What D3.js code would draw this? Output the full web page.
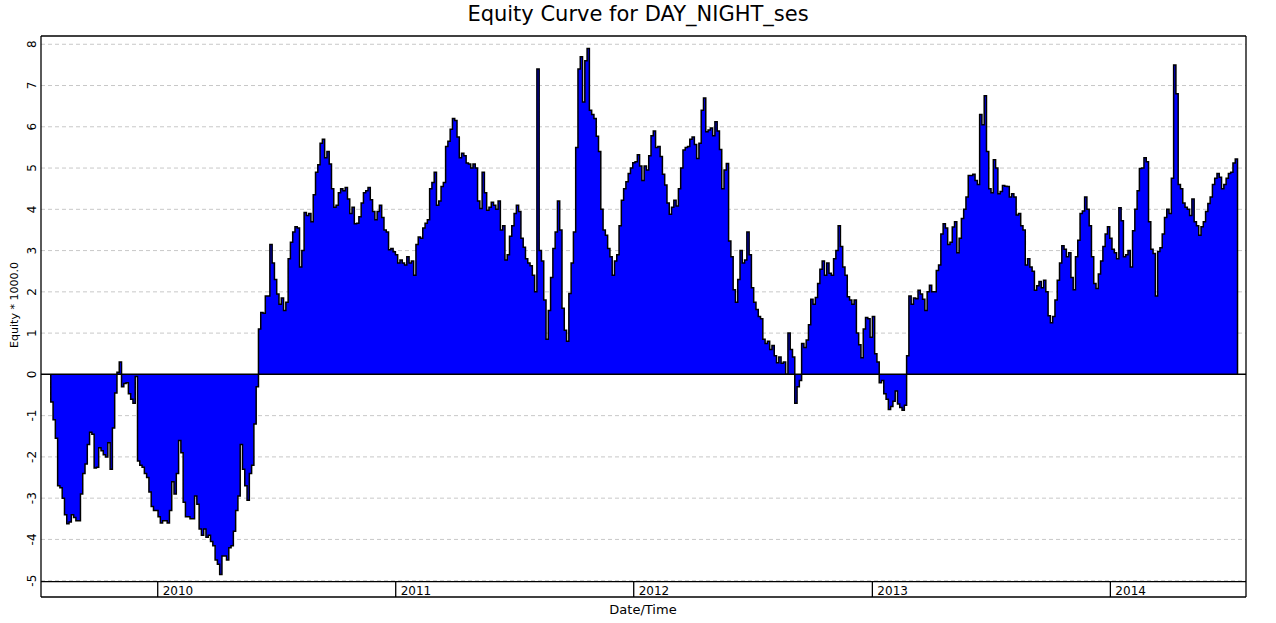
<!DOCTYPE html>
<html><head><meta charset="utf-8">
<script src="https://cdn.jsdelivr.net/npm/d3@7"></script>
<style>body{margin:0;background:#fff} svg{display:block} text{font-family:"DejaVu Sans",Verdana,sans-serif;fill:#000}</style>
</head><body><svg id="c" width="1276" height="623"></svg>
<script>
const title = "Equity Curve for DAY_NIGHT_ses";
const yLabel = "Equity * 1000.0";
const xLabel = "Date/Time";
const startDate = "2009-07-21";
const stepHours = 84; // half-week samples
const equity = [
-0.67,-1.1,-1.55,-2.7,-2.75,-3.0,-3.4,-3.62,-3.58,-3.4,
-3.47,-3.55,-3.55,-2.9,-2.4,-2.17,-1.7,-1.4,-1.45,-2.27,
-2.25,-1.78,-1.85,-1.95,-2.0,-1.66,-2.3,-1.3,-0.45,0.05,
0.3,-0.3,-0.22,-0.2,-0.47,-0.6,-0.7,-0.05,-2.1,-2.2,
-2.25,-2.4,-2.5,-2.85,-3.2,-3.3,-3.3,-3.45,-3.6,-3.55,
-3.55,-3.6,-3.3,-2.6,-2.9,-2.4,-1.6,-1.9,-3.1,-3.45,
-3.45,-3.5,-3.5,-2.95,-3.15,-3.75,-3.9,-3.75,-3.95,-3.9,
-4.05,-4.15,-4.5,-4.6,-4.85,-4.4,-4.4,-4.5,-4.2,-4.15,
-3.8,-3.3,-2.95,-1.7,-2.3,-2.7,-3.05,-2.4,-2.2,-1.2,
-0.3,
1.1,1.5,1.48,1.9,1.9,3.15,2.7,2.3,1.95,1.7,
1.85,1.55,1.75,2.8,3.2,3.45,3.58,3.55,2.6,3.0,
3.92,3.85,3.9,3.7,4.35,4.9,5.08,5.6,5.7,5.25,
5.4,5.1,4.5,4.05,4.1,4.4,4.5,4.45,4.53,4.25,
3.9,4.05,3.65,3.66,3.82,4.15,4.4,4.45,4.53,4.23,
3.95,3.75,3.95,4.1,3.8,3.5,3.45,3.02,3.05,2.97,
2.9,2.7,2.77,2.7,2.65,2.85,2.7,2.75,2.4,3.15,
3.33,3.3,3.55,3.66,3.75,4.5,4.65,4.9,4.1,4.2,
4.55,4.65,5.52,5.65,5.94,6.2,6.15,5.75,5.25,5.36,
5.3,5.12,5.1,5.0,5.1,5.0,4.2,4.02,4.9,4.4,
3.98,4.05,4.17,4.1,4.0,4.2,3.5,3.6,2.77,2.9,
3.35,3.6,3.9,4.1,3.95,3.3,3.08,2.8,2.7,2.63,
2.4,2.0,7.4,3.0,2.75,1.8,0.85,1.55,
2.35,3.05,3.45,4.2,3.5,1.6,1.07,0.8,1.96,2.7,
3.45,5.5,7.4,7.7,6.6,7.6,7.9,6.4,6.3,6.2,
5.77,5.4,4.0,3.5,3.37,3.05,2.85,2.4,2.75,2.9,
3.6,4.22,4.5,4.67,4.87,5.0,5.13,5.15,5.32,5.05,
4.7,5.05,4.95,5.3,5.78,5.9,5.5,5.52,5.28,4.85,
4.59,4.15,3.88,4.05,4.22,4.08,4.5,5.0,5.44,5.5,
5.52,5.7,5.75,5.57,5.23,5.6,6.4,6.7,5.88,5.92,
5.97,5.78,6.12,5.9,5.45,4.5,4.95,5.11,3.23,2.85,
2.05,1.75,2.3,3.0,2.7,2.77,3.45,2.9,2.1,1.75,
1.57,1.4,1.35,0.85,0.75,0.8,0.6,
0.7,0.45,0.28,0.42,0.27,0.3,0.0,1.0,0.6,0.42,
-0.7,-0.3,-0.15,0.75,0.65,0.83,1.2,1.82,1.7,1.86,
2.2,2.55,2.75,2.4,2.7,2.45,2.4,2.8,3.0,3.6,
3.1,2.6,2.4,1.88,1.8,1.7,1.8,1.0,0.72,0.4,
1.1,1.38,1.35,0.9,1.4,0.5,0.3,-0.2,-0.15,-0.47,
-0.6,-0.85,-0.78,-0.65,-0.4,-0.72,-0.8,-0.87,-0.75,0.45,
1.9,1.7,1.85,1.83,2.04,1.95,1.82,1.55,2.0,2.16,
2.0,2.0,2.52,2.65,3.4,3.65,3.55,3.15,3.2,3.57,
3.7,2.95,3.3,3.78,4.0,
4.3,4.82,4.82,4.85,4.7,4.6,6.3,6.05,6.75,5.4,
4.5,4.4,5.2,5.0,4.38,4.43,4.58,4.56,4.55,4.3,
4.38,4.3,3.86,3.9,3.6,3.5,2.65,2.8,2.6,2.5,
2.04,2.15,2.25,2.1,2.28,2.0,1.42,1.25,1.4,1.8,
2.28,2.7,3.12,3.03,2.85,2.95,2.35,2.05,2.85,3.25,
3.9,3.96,4.3,4.0,3.6,2.85,2.2,2.08,2.43,2.75,
3.1,3.4,3.58,3.3,3.03,2.95,2.8,4.04,3.72,2.85,
2.9,3.0,2.6,3.48,4.0,4.45,4.99,5.0,5.25,5.15,
3.7,3.03,2.93,1.9,2.98,3.07,3.4,3.8,4.0,3.9,
4.75,7.5,6.8,4.6,4.5,4.15,4.05,4.0,3.85,4.25,
3.7,3.6,3.37,3.58,3.7,3.95,4.14,4.3,4.6,4.75,
4.87,4.78,4.5,4.6,4.75,4.87,4.9,5.12,5.22,5.1
];
const yTicks = [-5,-4,-3,-2,-1,0,1,2,3,4,5,6,7,8];
const yearTicks = [2010,2011,2012,2013,2014];
const xDomain = ["2009-07-06","2014-07-28"];
const yDomain = [-5, 8.2];

const L = 41, R = 1246, T = 36, B = 580.7, bandTop = 581.7, bandBot = 597;
const svg = d3.select("#c");
const parse = d3.utcParse("%Y-%m-%d");
const start = parse(startDate);
const data = equity.map((v,i)=>({d:d3.utcHour.offset(start, i*stepHours), v}));
const lineData = [{d:data[0].d, v:0}, ...data, {d:data[data.length-1].d, v:0}];

const x = d3.scaleUtc().domain(xDomain.map(parse)).range([L, R]);
const y = d3.scaleLinear().domain(yDomain).range([B, T]);

// grid
svg.append("g").selectAll("line").data(yTicks.filter(t=>t!==0)).join("line")
  .attr("x1", L).attr("x2", R).attr("y1", d=>y(d)).attr("y2", d=>y(d))
  .attr("stroke", "#c8c8c8").attr("stroke-width", 1).attr("stroke-dasharray", "4,3");

// area
const area = d3.area().curve(d3.curveStepAfter).x(d=>x(d.d)).y0(y(0)).y1(d=>y(d.v));
svg.append("path").datum(lineData).attr("d", area).attr("fill", "#0000ff");
const line = d3.line().curve(d3.curveStepAfter).x(d=>x(d.d)).y(d=>y(d.v));
svg.append("path").datum(lineData).attr("d", line).attr("fill", "none")
  .attr("stroke", "#000").attr("stroke-width", 1.5);

// zero line
svg.append("line").attr("x1", L).attr("x2", R).attr("y1", y(0)).attr("y2", y(0))
  .attr("stroke", "#000").attr("stroke-width", 1.5);

// frame
const fr = svg.append("g").attr("stroke", "#000").attr("stroke-width", 1.3).attr("fill", "none");
fr.append("line").attr("x1", L).attr("x2", R).attr("y1", T).attr("y2", T);
fr.append("line").attr("x1", L).attr("x2", L).attr("y1", T).attr("y2", bandBot);
fr.append("line").attr("x1", R).attr("x2", R).attr("y1", T).attr("y2", bandBot);
fr.append("line").attr("x1", L).attr("x2", R).attr("y1", bandTop).attr("y2", bandTop);
fr.append("line").attr("x1", L).attr("x2", R).attr("y1", bandBot).attr("y2", bandBot);

// year ticks
const yrs = yearTicks.map(yr=>({yr, px:x(new Date(Date.UTC(yr,0,1)))}));
fr.selectAll("line.yt").data(yrs).join("line").attr("class","yt")
  .attr("x1", d=>d.px).attr("x2", d=>d.px).attr("y1", bandTop).attr("y2", bandBot);
svg.append("g").selectAll("text").data(yrs).join("text")
  .attr("x", d=>d.px+5).attr("y", 594.5).attr("font-size", 12).text(d=>d.yr);

// y tick labels
svg.append("g").selectAll("text").data(yTicks).join("text")
  .attr("transform", d=>`translate(36,${y(d)}) rotate(-90)`)
  .attr("text-anchor", "middle").attr("font-size", 12).text(d=>d);

// titles
svg.append("text").attr("x", 638).attr("y", 21).attr("text-anchor", "middle")
  .attr("font-size", 21).text(title);
svg.append("text").attr("transform", "translate(18,305) rotate(-90)")
  .attr("text-anchor", "middle").attr("font-size", 11).text(yLabel);
svg.append("text").attr("x", 643).attr("y", 614).attr("text-anchor", "middle")
  .attr("font-size", 13).text(xLabel);
</script></body></html>
